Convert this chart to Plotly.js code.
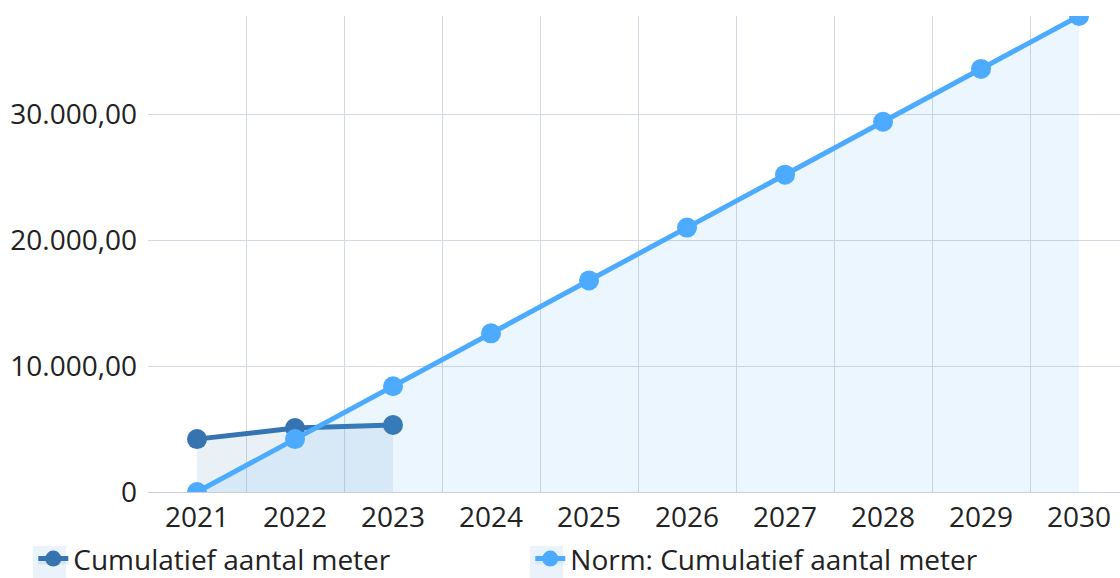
<!DOCTYPE html>
<html>
<head>
<meta charset="utf-8">
<script src="https://cdn.plot.ly/plotly-3.0.1.min.js"></script>
<style>html,body{margin:0;padding:0;overflow:hidden;background:#fff}</style>
</head>
<body>
<div id="chart" style="width:1120px;height:578px"></div>
<script>
const years = ['2021','2022','2023','2024','2025','2026','2027','2028','2029','2030'];
const actualYears = ['2021','2022','2023'];
const actualValues = [4200, 5080, 5320];
const normValues = [0, 4200, 8400, 12600, 16800, 21000, 25200, 29400, 33600, 37800];
const yTickVals = [0, 10000, 20000, 30000];
const yTickText = ['0', '10.000,00', '20.000,00', '30.000,00'];
const seriesNames = ['Cumulatief aantal meter', 'Norm: Cumulatief aantal meter'];

const traces = [
  {
    x: actualYears, y: actualValues, name: seriesNames[0],
    type: 'scatter', mode: 'lines+markers', fill: 'tozeroy',
    fillcolor: 'rgba(53,116,176,0.11)',
    line: {color: '#3574b0', width: 5},
    marker: {color: '#3574b0', size: 20},
    cliponaxis: true
  },
  {
    x: years, y: normValues, name: seriesNames[1],
    type: 'scatter', mode: 'lines+markers', fill: 'tozeroy',
    fillcolor: 'rgba(77,171,255,0.11)',
    line: {color: '#4dabff', width: 5},
    marker: {color: '#4dabff', size: 20},
    cliponaxis: true
  }
];

// legend symbol background boxes (pixel -> paper conversion)
const plotL = 148, plotW = 972, plotB = 492, plotH = 476;
function px(x) { return (x - plotL) / plotW; }
function py(y) { return (plotB - y) / plotH; }
const legendBoxes = [[33, 66], [530, 563]].map(function (b) {
  return {
    type: 'rect', xref: 'paper', yref: 'paper', layer: 'below',
    x0: px(b[0]), x1: px(b[1]), y0: py(546), y1: py(590),
    fillcolor: '#eaf2fb', line: {width: 0}
  };
});

const layout = {
  width: 1120, height: 578,
  margin: {l: 148, r: 0, t: 16, b: 86, autoexpand: false},
  paper_bgcolor: '#ffffff', plot_bgcolor: '#ffffff',
  font: {family: 'Open Sans, Noto Sans, sans-serif', size: 28, color: '#222222'},
  showlegend: true,
  legend: {
    orientation: 'h', x: -0.118, xanchor: 'left', y: -0.088, yanchor: 'top',
    font: {size: 28, color: '#222222'}, entrywidth: 452, entrywidthmode: 'pixels',
    traceorder: 'normal', bgcolor: 'rgba(0,0,0,0)'
  },
  shapes: legendBoxes,
  xaxis: {
    type: 'category', range: [-0.5, 9.418],
    showgrid: true, gridcolor: '#d3d9e2', gridwidth: 1,
    tickson: 'boundaries',
    ticks: '', tickfont: {size: 28},
    showline: true, linecolor: '#c5cdd8', linewidth: 1,
    automargin: false, fixedrange: true
  },
  yaxis: {
    range: [0, 37800],
    tickvals: yTickVals, ticktext: yTickText,
    showgrid: true, gridcolor: '#d3d9e2', gridwidth: 1,
    zeroline: false, showline: false, ticks: '',
    tickfont: {size: 28}, ticklabelstandoff: 10,
    automargin: false, fixedrange: true
  }
};

Plotly.newPlot('chart', traces, layout, {displayModeBar: false, staticPlot: true});
</script>
</body>
</html>
